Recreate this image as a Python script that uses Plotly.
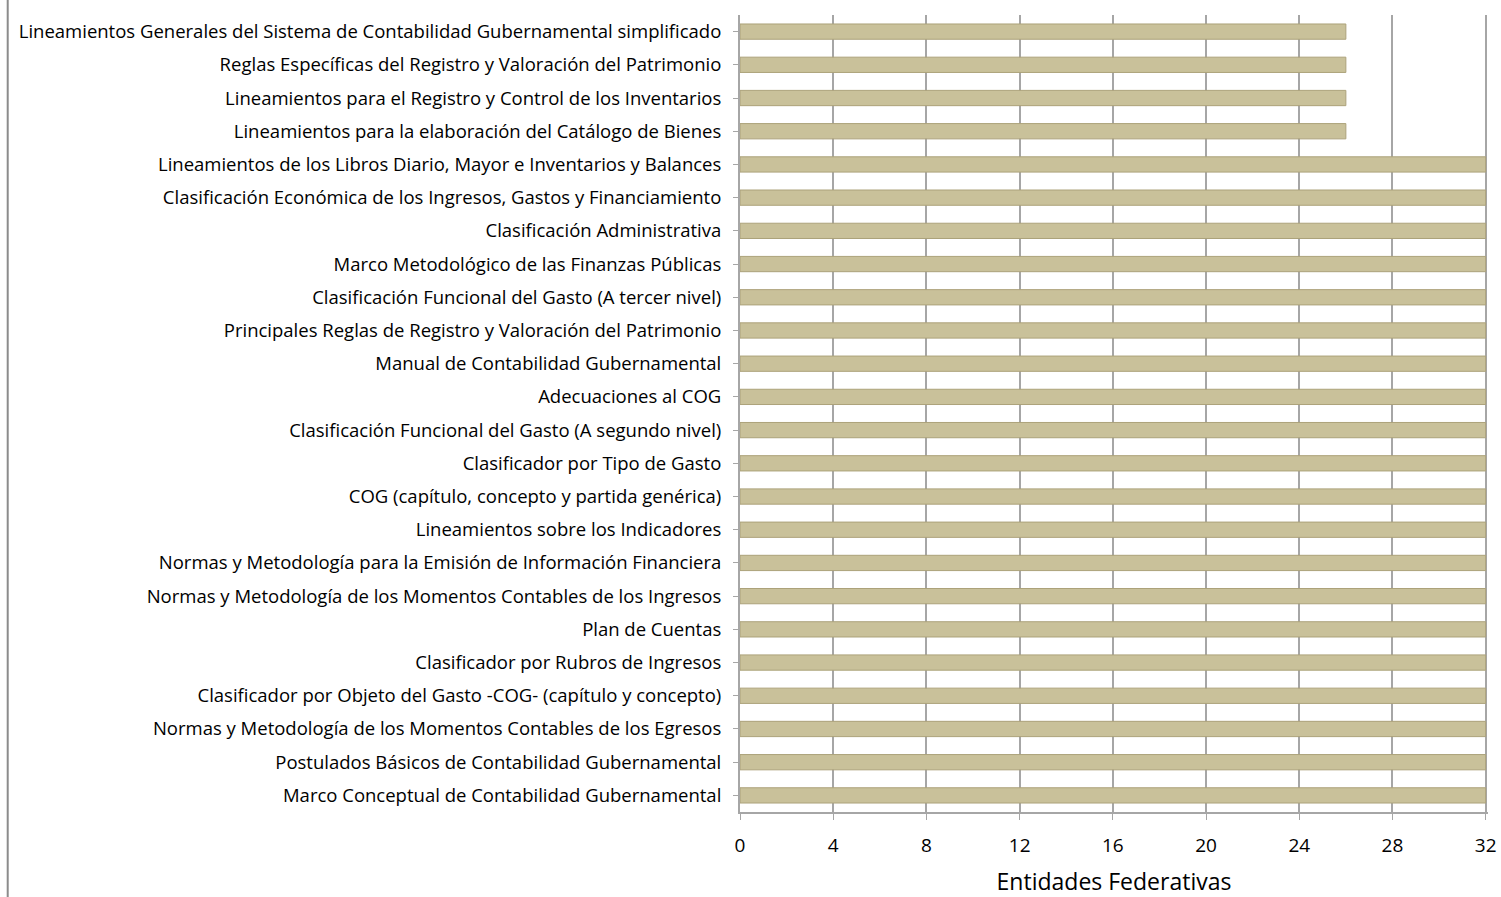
import plotly.graph_objects as go

# categories listed top to bottom as in the chart
categorias = [
    "Lineamientos Generales del Sistema de Contabilidad Gubernamental simplificado",
    "Reglas Específicas del Registro y Valoración del Patrimonio",
    "Lineamientos para el Registro y Control de los Inventarios",
    "Lineamientos para la elaboración del Catálogo de Bienes",
    "Lineamientos de los Libros Diario, Mayor e Inventarios y Balances",
    "Clasificación Económica de los Ingresos, Gastos y Financiamiento",
    "Clasificación Administrativa",
    "Marco Metodológico de las Finanzas Públicas",
    "Clasificación Funcional del Gasto (A tercer nivel)",
    "Principales Reglas de Registro y Valoración del Patrimonio",
    "Manual de Contabilidad Gubernamental",
    "Adecuaciones al COG",
    "Clasificación Funcional del Gasto (A segundo nivel)",
    "Clasificador por Tipo de Gasto",
    "COG (capítulo, concepto y partida genérica)",
    "Lineamientos sobre los Indicadores",
    "Normas y Metodología para la Emisión de Información Financiera",
    "Normas y Metodología de los Momentos Contables de los Ingresos",
    "Plan de Cuentas",
    "Clasificador por Rubros de Ingresos",
    "Clasificador por Objeto del Gasto -COG- (capítulo y concepto)",
    "Normas y Metodología de los Momentos Contables de los Egresos",
    "Postulados Básicos de Contabilidad Gubernamental",
    "Marco Conceptual de Contabilidad Gubernamental",
]
entidades = [26, 26, 26, 26] + [32] * 20
ticks_x = [0, 4, 8, 12, 16, 20, 24, 28, 32]

fig = go.Figure()
fig.add_trace(go.Bar(
    y=categorias,
    x=entidades,
    orientation="h",
    marker=dict(color="#C9C19A", line=dict(color="#ACA27A", width=1)),
    width=0.46,
))

fig.update_layout(
    width=1501, height=897,
    margin=dict(l=740, r=13, t=15, b=85),
    paper_bgcolor="white",
    plot_bgcolor="white",
    font=dict(family="Open Sans, sans-serif", size=18.5, color="#000000"),
    showlegend=False,
    xaxis=dict(
        range=[0, 32.1],
        tickvals=ticks_x,
        showgrid=True, gridcolor="#A6A6A6", gridwidth=2,
        showline=True, linecolor="#A6A6A6", linewidth=2,
        ticks="outside", tickcolor="#A6A6A6", ticklen=6,
        ticklabelstandoff=9,
        tickfont=dict(size=19),
        zeroline=False,
        automargin=False,
        title=dict(text="Entidades Federativas", font=dict(size=23), standoff=24),
    ),
    yaxis=dict(
        autorange="reversed",
        showline=True, linecolor="#A6A6A6", linewidth=2,
        ticks="outside", tickcolor="#A6A6A6", ticklen=5,
        ticklabelstandoff=8,
        showgrid=False,
        automargin=False,
    ),
)

# left border of the chart area
fig.add_shape(type="line", xref="paper", yref="paper",
              x0=-0.979, x1=-0.979, y0=-0.12, y1=1.02,
              line=dict(color="#8C8C8C", width=2))

# drop the default body margin so the figure fills the window
fig.write_html("out.html", config={"displayModeBar": False},
               post_script="document.body.style.margin='0';")
